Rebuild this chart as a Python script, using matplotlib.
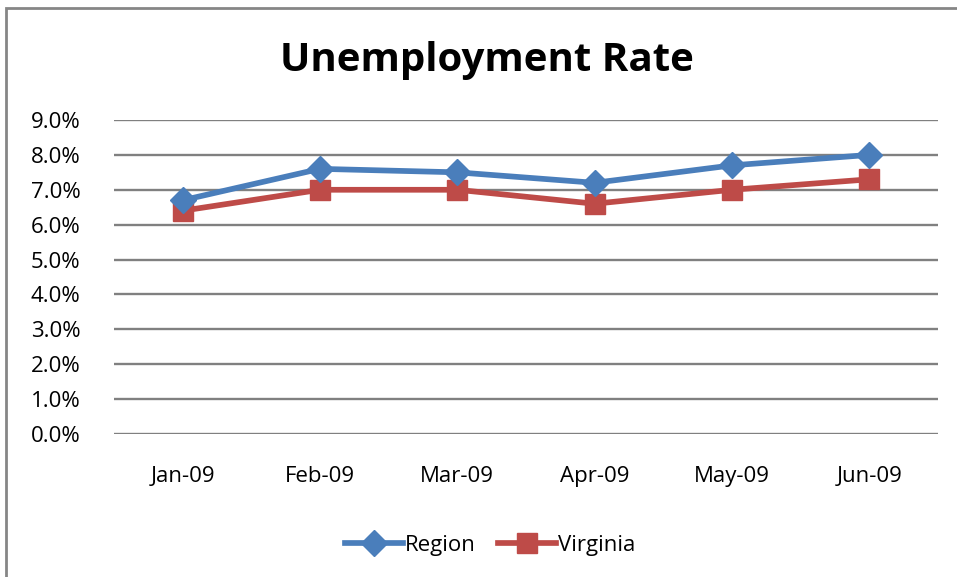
import matplotlib
matplotlib.use("Agg")
import matplotlib.pyplot as plt
from matplotlib.lines import Line2D
from matplotlib.patches import Rectangle

months = ["Jan-09", "Feb-09", "Mar-09", "Apr-09", "May-09", "Jun-09"]
region = [6.7, 7.6, 7.5, 7.2, 7.7, 8.0]
virginia = [6.4, 7.0, 7.0, 6.6, 7.0, 7.3]
yticks = [0, 1, 2, 3, 4, 5, 6, 7, 8, 9]

plt.rcParams['font.family'] = ['Open Sans', 'DejaVu Sans']

W, H = 957, 577
fig = plt.figure(figsize=(W / 100, H / 100), dpi=100)
ax = fig.add_axes([114 / W, 1 - 434 / H, (938 - 114) / W, (434 - 120) / H])

x = list(range(len(months)))
blue = "#4A7EBB"
red = "#BE4B48"
ax.plot(x, virginia, color=red, lw=4.1, marker="s", ms=14, mec=red, mfc=red, zorder=3, label="Virginia")
ax.plot(x, region, color=blue, lw=4.1, marker="D", ms=13, mec=blue, mfc=blue, zorder=4, label="Region")

ax.set_xlim(-0.5, len(months) - 0.5)
ax.set_ylim(0, 9)
ax.set_yticks(yticks)
ax.set_yticklabels([f"{v:.1f}%" for v in yticks], fontsize=16)
ax.set_xticks(x)
ax.set_xticklabels(months, fontsize=16)
ax.tick_params(axis="y", length=0, pad=24)
ax.tick_params(axis="x", length=0, pad=23)
for v in yticks:
    ax.axhline(v, color="#808080", lw=1.7, zorder=1)
for s in ax.spines.values():
    s.set_visible(False)

fig.text(487 / W, 1 - 61 / H, "Unemployment Rate", ha="center", va="center", fontsize=29, fontweight="bold")

handles = [Line2D([], [], color=blue, lw=4.1, marker="D", ms=13),
           Line2D([], [], color=red, lw=4.1, marker="s", ms=14)]
fig.legend(handles, ["Region", "Virginia"], loc="center", bbox_to_anchor=(490 / W, 1 - 545 / H),
           ncol=2, frameon=False, fontsize=16, handlelength=2.6, handletextpad=0.1, columnspacing=1.0)

fig.add_artist(Rectangle((6 / W, -0.1), 1.2, 1 - 8 / H + 0.1, transform=fig.transFigure,
                         fill=False, edgecolor="#868686", lw=2))

fig.savefig("out.png", dpi=100)
